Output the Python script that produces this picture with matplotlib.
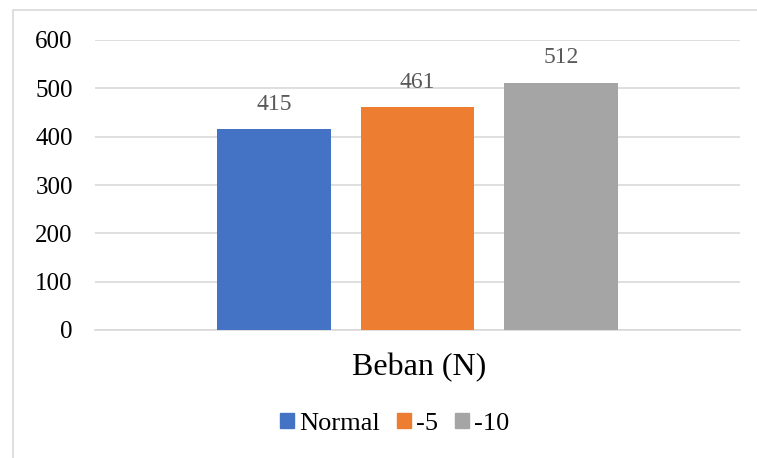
import matplotlib.pyplot as plt
from matplotlib.patches import Rectangle

plt.rcParams['font.family'] = ['Liberation Serif', 'DejaVu Serif']

series = ['Normal', '-5', '-10']
values = [415, 461, 512]
colors = ['#4472c4', '#ed7d31', '#a5a5a5']
yticks = [0, 100, 200, 300, 400, 500, 600]

fig = plt.figure(figsize=(7.57, 4.58), dpi=100)
fig.patches.append(Rectangle((13 / 757, -0.1), 1.2, 1 - 10 / 458 + 0.1,
                             transform=fig.transFigure, fill=False,
                             edgecolor='#d9d9d9', linewidth=1.2))

ax = fig.add_axes([95 / 757, 1 - 330 / 458, 645 / 757, 290 / 458])
pos = [-1, 0, 1]
bars = ax.bar(pos, values, width=0.79, color=colors, zorder=3)
for b, v in zip(bars, values):
    ax.text(b.get_x() + b.get_width() / 2, v + 52, str(v), ha='center',
            va='center', fontsize=17, color='#595959')

ax.set_xlim(-2.247, 2.247)
ax.set_ylim(0, 600)
ax.set_yticks(yticks)
ax.set_xticks([])
ax.tick_params(axis='y', length=0, pad=16, labelsize=18)
ax.grid(axis='y', color='#d9d9d9', linewidth=1.2, zorder=0)
for s in ['top', 'right', 'left']:
    ax.spines[s].set_visible(False)
ax.spines['bottom'].set_color('#d9d9d9')
ax.spines['bottom'].set_linewidth(1.2)

fig.text(419 / 757, 1 - 368 / 458, 'Beban (N)', ha='center', va='center', fontsize=23)

handles = [Rectangle((0, 0), 1, 1, color=c) for c in colors]
fig.legend(handles, series, loc='center', bbox_to_anchor=(395 / 757, 1 - 424 / 458),
           ncol=3, frameon=False, fontsize=19, handlelength=0.52, handleheight=0.52,
           handletextpad=0.2, columnspacing=0.65, borderpad=0, borderaxespad=0)

fig.savefig('out.png', dpi=100)
